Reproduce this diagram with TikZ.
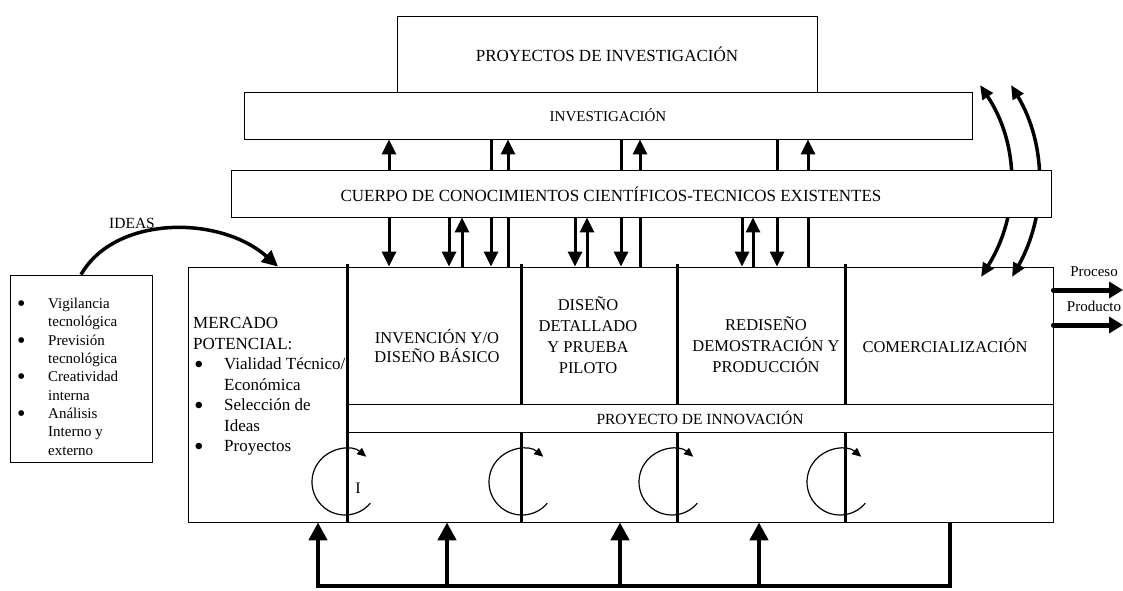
\documentclass[tikz,border=0pt]{standalone}
\usepackage{fontspec}
\setmainfont{Liberation Serif}
\usetikzlibrary{arrows.meta,positioning}

\newcommand{\vineta}{\raisebox{-0.2em}{\scalebox{1.6}{\textbullet}}}

\tikzset{
  caja/.style={draw, line width=0.8pt, inner sep=0pt},
  barra/.style={line width=3pt},
  flecha/.style={line width=3pt, -{Triangle[length=15pt,width=14pt]}},
  curva/.style={line width=3.5pt, {Triangle[length=14pt,width=12pt]}-{Triangle[length=14pt,width=12pt]}},
  idea/.style={line width=3.5pt, -{Triangle[length=16pt,width=15pt]}},
  ciclo/.style={line width=1.2pt, -{Triangle[length=9pt,width=8pt]}},
  retorno/.style={line width=4.5pt, -{Triangle[length=18pt,width=18pt]}},
  salida/.style={line width=5pt, line cap=round, -{Triangle[length=14pt,width=16pt]}}
}

\begin{document}
\begin{tikzpicture}[x=1pt,y=-1pt]
\useasboundingbox (0,0) rectangle (1123,590);
% upper boxes
\node[caja, minimum width=420pt, minimum height=76pt, font=\fontsize{17}{20}\selectfont] (box_proy) at (607,54) {PROYECTOS DE INVESTIGACIÓN};
\node[caja, fill=white, minimum width=728pt, minimum height=47pt, font=\fontsize{15}{18}\selectfont] (box_inv) at (608,115.5) {INVESTIGACIÓN};
% curved arrows, behind the knowledge box
\coordinate (c_sup1) at (980,85);
\coordinate (c_inf1) at (981,277);
\coordinate (c_sup2) at (1011,85);
\coordinate (c_inf2) at (1012,277);
\draw[curva] (c_inf1) .. controls (1020,215) and (1020,145) .. (c_sup1);
\draw[curva] (c_inf2) .. controls (1047,215) and (1047,145) .. (c_sup2);
\node[caja, fill=white, minimum width=820pt, minimum height=47pt] (box_cuerpo) at (641,193.5) {};
\node[font=\fontsize{17}{20}\selectfont] (txt_cuerpo) at (611,194) {CUERPO DE CONOCIMIENTOS CIENTÍFICOS-TECNICOS EXISTENTES};
% main boxes
\node[caja, minimum width=865pt, minimum height=255pt] (box_main) at (620.5,394.5) {};
\node[caja, minimum width=142pt, minimum height=187pt] (box_left) at (81,368.5) {};
% texts
\node[anchor=north west, align=left, inner sep=0pt, font=\fontsize{15}{18.3}\selectfont] (txt_left) at (17,298) {%
\makebox[31pt][l]{\vineta}Vigilancia\\\hspace*{31pt}tecnológica\\
\makebox[31pt][l]{\vineta}Previsión\\\hspace*{31pt}tecnológica\\
\makebox[31pt][l]{\vineta}Creatividad\\\hspace*{31pt}interna\\
\makebox[31pt][l]{\vineta}Análisis\\\hspace*{31pt}Interno y\\\hspace*{31pt}externo};
\node[anchor=north west, align=left, inner sep=0pt, font=\fontsize{17}{20.5}\selectfont] (txt_mercado) at (193,317.5) {%
MERCADO\\POTENCIAL:\\
\hspace*{1pt}\makebox[30pt][l]{\vineta}Vialidad Técnico/\\\hspace*{31pt}Económica\\
\hspace*{1pt}\makebox[30pt][l]{\vineta}Selección de\\\hspace*{31pt}Ideas\\
\hspace*{1pt}\makebox[30pt][l]{\vineta}Proyectos};
\node[align=center, font=\fontsize{16.5}{19.5}\selectfont] (txt_invencion) at (437,346) {INVENCIÓN Y/O\\DISEÑO BÁSICO};
\node[align=center, font=\fontsize{16.5}{21}\selectfont] (txt_diseno) at (588,335) {DISEÑO\\DETALLADO\\Y PRUEBA\\PILOTO};
\node[align=center, font=\fontsize{16.5}{21}\selectfont] (txt_rediseno) at (766,345) {REDISEÑO\\DEMOSTRACIÓN Y\\PRODUCCIÓN};
\node[font=\fontsize{16.5}{20}\selectfont] (txt_comer) at (945,345) {COMERCIALIZACIÓN};
\node[font=\fontsize{15.5}{18}\selectfont] (txt_ideas) at (132,223) {IDEAS};
\node[font=\fontsize{15}{18}\selectfont] (txt_proceso) at (1094,272) {Proceso};
\node[font=\fontsize{15}{18}\selectfont] (txt_producto) at (1094,306) {Producto};
\node[font=\fontsize{16}{19}\selectfont] (txt_i) at (358,488) {I};
% dividers
\draw[barra] (521,264) -- (box_main.south -| 521,0);
\draw[barra] (677,264) -- (box_main.south -| 677,0);
\draw[barra] (845,264) -- (box_main.south -| 845,0);
\node[caja, fill=white, minimum width=706pt, minimum height=28pt, font=\fontsize{15.5}{18}\selectfont] (box_innov) at (700,418) {PROYECTO DE INNOVACIÓN};
\draw[barra] (347,264) -- (box_main.south -| 347,0);
% cuerpo -> investigacion
\draw[flecha] (box_cuerpo.north -| 389,0) -- (box_inv.south -| 389,0);
\draw[flecha] (box_cuerpo.north -| 508,0) -- (box_inv.south -| 508,0);
\draw[flecha] (box_cuerpo.north -| 640,0) -- (box_inv.south -| 640,0);
\draw[flecha] (box_cuerpo.north -| 808,0) -- (box_inv.south -| 808,0);
\draw[barra] (box_cuerpo.north -| 491,0) -- (box_inv.south -| 491,0);
\draw[barra] (box_cuerpo.north -| 621,0) -- (box_inv.south -| 621,0);
\draw[barra] (box_cuerpo.north -| 777,0) -- (box_inv.south -| 777,0);
% cuerpo -> fases
\draw[flecha] (box_cuerpo.south -| 389,0) -- (box_main.north -| 389,0);
\draw[flecha] (box_cuerpo.south -| 449,0) -- (box_main.north -| 449,0);
\draw[flecha] (box_cuerpo.south -| 491,0) -- (box_main.north -| 491,0);
\draw[flecha] (box_cuerpo.south -| 575,0) -- (box_main.north -| 575,0);
\draw[flecha] (box_cuerpo.south -| 621,0) -- (box_main.north -| 621,0);
\draw[flecha] (box_cuerpo.south -| 742,0) -- (box_main.north -| 742,0);
\draw[flecha] (box_cuerpo.south -| 777,0) -- (box_main.north -| 777,0);
% fases -> cuerpo
\draw[flecha] (box_main.north -| 462,0) -- (box_cuerpo.south -| 462,0);
\draw[flecha] (box_main.north -| 587,0) -- (box_cuerpo.south -| 587,0);
\draw[flecha] (box_main.north -| 753,0) -- (box_cuerpo.south -| 753,0);
\draw[barra] (box_main.north -| 508,0) -- (box_cuerpo.south -| 508,0);
\draw[barra] (box_main.north -| 640,0) -- (box_cuerpo.south -| 640,0);
\draw[barra] (box_main.north -| 808,0) -- (box_cuerpo.south -| 808,0);
% ideas
\draw[idea] (box_left.north) .. controls (115,215) and (220,215) .. (box_main.north -| 278,0);
% cycles
\draw[ciclo] (345,482) ++(40:33) arc[start angle=40, end angle=310, radius=33];
\draw[ciclo] (522,482) ++(40:33) arc[start angle=40, end angle=310, radius=33];
\draw[ciclo] (672,482) ++(40:33) arc[start angle=40, end angle=310, radius=33];
\draw[ciclo] (840,482) ++(40:33) arc[start angle=40, end angle=310, radius=33];
% feedback
\coordinate (c_ret_a) at (318,586);
\coordinate (c_ret_b) at (950,586);
\draw[retorno] (box_main.south -| c_ret_b) -- (c_ret_b) -- (c_ret_a) -- (box_main.south -| c_ret_a);
\draw[retorno] (c_ret_a -| 447,0) -- (box_main.south -| 447,0);
\draw[retorno] (c_ret_a -| 620,0) -- (box_main.south -| 620,0);
\draw[retorno] (c_ret_a -| 759,0) -- (box_main.south -| 759,0);
% outputs
\coordinate (c_proceso) at (1123,290);
\coordinate (c_producto) at (1123,325);
\draw[salida] (box_main.east |- c_proceso) -- (c_proceso);
\draw[salida] (box_main.east |- c_producto) -- (c_producto);
\end{tikzpicture}
\end{document}
